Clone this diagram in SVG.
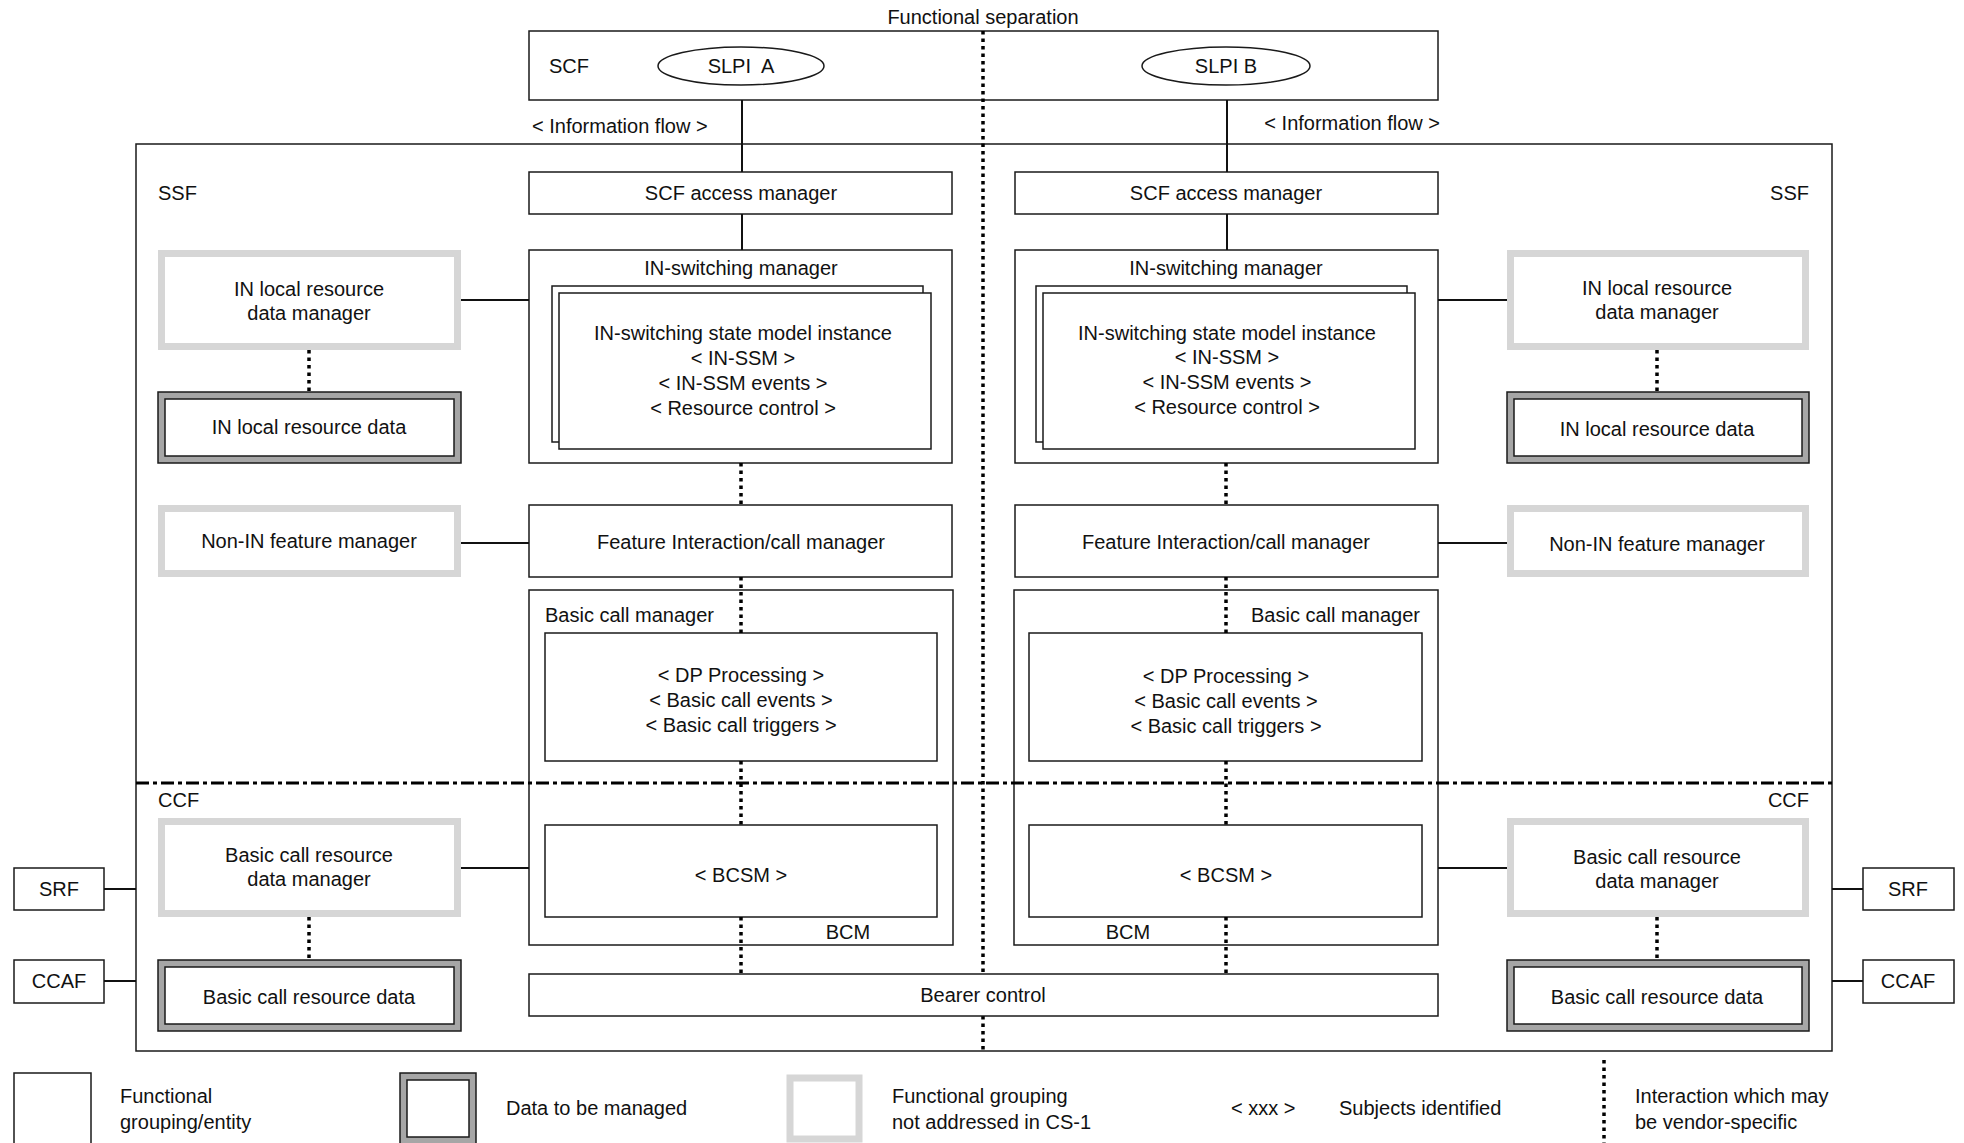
<svg xmlns="http://www.w3.org/2000/svg" width="1964" height="1143" viewBox="0 0 1964 1143">
<style>
.box{fill:#fff;stroke:#1a1a1a;stroke-width:1.5}
.open{fill:none;stroke:#1a1a1a;stroke-width:1.5}
.gbox{fill:#fff;stroke:#d6d6d6;stroke-width:7}
.dout{fill:#a6a6a6;stroke:#1a1a1a;stroke-width:1.5}
.din{fill:#fff;stroke:#1a1a1a;stroke-width:1.5}
.ln{stroke:#111;stroke-width:2;fill:none}
.dot{stroke:#000;stroke-width:3.5;stroke-dasharray:3.5 4;fill:none}
.dashdot{stroke:#000;stroke-width:3;stroke-dasharray:13 4 4 4;fill:none}
text{font-family:"Liberation Sans",Arial,Helvetica,sans-serif;font-size:20px;fill:#111}
.c{text-anchor:middle}
.r{text-anchor:end}
</style>
<rect width="1964" height="1143" fill="#fff"/>

<g id="ssf">
<rect class="box" x="136" y="144" width="1696" height="907"/>
<text x="158" y="200">SSF</text>
<text class="r" x="1809" y="200">SSF</text>
<text x="158" y="807">CCF</text>
<text class="r" x="1809" y="807">CCF</text>
</g>

<g id="scf">
<rect class="box" x="529" y="31" width="909" height="69"/>
<text x="549" y="73">SCF</text>
</g>
<text class="c" x="983" y="24">Functional separation</text>
<g id="slpi-a">
<ellipse class="box" cx="741" cy="66" rx="83" ry="19"/>
<text class="c" x="741" y="73" xml:space="preserve">SLPI  A</text>
</g>
<g id="slpi-b">
<ellipse class="box" cx="1226" cy="66" rx="84" ry="19"/>
<text class="c" x="1226" y="73">SLPI B</text>
</g>
<text x="532" y="133">&lt; Information flow &gt;</text>
<text class="r" x="1440" y="130">&lt; Information flow &gt;</text>

<!-- left column -->
<g id="scf-am-a">
<rect class="box" x="529" y="172" width="423" height="42"/>
<text class="c" x="741" y="200">SCF access manager</text>
</g>
<g id="insw-a">
<rect class="box" x="529" y="250" width="423" height="213"/>
<text class="c" x="741" y="275">IN-switching manager</text>
<rect class="box" x="552" y="286" width="371" height="156"/>
<rect class="box" x="559" y="293" width="372" height="156"/>
<text class="c" x="743" y="340">IN-switching state model instance</text>
<text class="c" x="743" y="365">&lt; IN-SSM &gt;</text>
<text class="c" x="743" y="390">&lt; IN-SSM events &gt;</text>
<text class="c" x="743" y="415">&lt; Resource control &gt;</text>
</g>
<g id="fi-a">
<rect class="box" x="529" y="505" width="423" height="72"/>
<text class="c" x="741" y="549">Feature Interaction/call manager</text>
</g>
<g id="bcm-a">
<rect class="box" x="529" y="590" width="424" height="355"/>
<text x="545" y="622">Basic call manager</text>
<rect class="box" x="545" y="633" width="392" height="128"/>
<text class="c" x="741" y="682">&lt; DP Processing &gt;</text>
<text class="c" x="741" y="707">&lt; Basic call events &gt;</text>
<text class="c" x="741" y="732">&lt; Basic call triggers &gt;</text>
<rect class="box" x="545" y="825" width="392" height="92"/>
<text class="c" x="741" y="882">&lt; BCSM &gt;</text>
<text class="c" x="848" y="939">BCM</text>
</g>

<!-- right column -->
<g id="scf-am-b">
<rect class="box" x="1015" y="172" width="423" height="42"/>
<text class="c" x="1226" y="200">SCF access manager</text>
</g>
<g id="insw-b">
<rect class="box" x="1015" y="250" width="423" height="213"/>
<text class="c" x="1226" y="275">IN-switching manager</text>
<rect class="box" x="1036" y="286" width="371" height="156"/>
<rect class="box" x="1043" y="293" width="372" height="156"/>
<text class="c" x="1227" y="340">IN-switching state model instance</text>
<text class="c" x="1227" y="364">&lt; IN-SSM &gt;</text>
<text class="c" x="1227" y="389">&lt; IN-SSM events &gt;</text>
<text class="c" x="1227" y="414">&lt; Resource control &gt;</text>
</g>
<g id="fi-b">
<rect class="box" x="1015" y="505" width="423" height="72"/>
<text class="c" x="1226" y="549">Feature Interaction/call manager</text>
</g>
<g id="bcm-b">
<rect class="box" x="1014" y="590" width="424" height="355"/>
<text class="r" x="1420" y="622">Basic call manager</text>
<rect class="box" x="1029" y="633" width="393" height="128"/>
<text class="c" x="1226" y="683">&lt; DP Processing &gt;</text>
<text class="c" x="1226" y="708">&lt; Basic call events &gt;</text>
<text class="c" x="1226" y="733">&lt; Basic call triggers &gt;</text>
<rect class="box" x="1029" y="825" width="393" height="92"/>
<text class="c" x="1226" y="882">&lt; BCSM &gt;</text>
<text class="c" x="1128" y="939">BCM</text>
</g>

<!-- left side boxes -->
<g id="inlrdm-a">
<rect class="gbox" x="161.5" y="253.5" width="296" height="93"/>
<text class="c" x="309" y="296">IN local resource</text>
<text class="c" x="309" y="320">data manager</text>
</g>
<g id="inlrd-a">
<rect class="dout" x="158" y="392" width="303" height="71"/>
<rect class="din" x="165" y="399" width="289" height="57"/>
<text class="c" x="309" y="434">IN local resource data</text>
</g>
<g id="nonin-a">
<rect class="gbox" x="161.5" y="508.5" width="296" height="65"/>
<text class="c" x="309" y="548">Non-IN feature manager</text>
</g>
<g id="bcrdm-a">
<rect class="gbox" x="161.5" y="821.5" width="296" height="92"/>
<text class="c" x="309" y="862">Basic call resource</text>
<text class="c" x="309" y="886">data manager</text>
</g>
<g id="bcrd-a">
<rect class="dout" x="158" y="960" width="303" height="71"/>
<rect class="din" x="165" y="967" width="289" height="57"/>
<text class="c" x="309" y="1004">Basic call resource data</text>
</g>

<!-- right side boxes -->
<g id="inlrdm-b">
<rect class="gbox" x="1510.5" y="253.5" width="295" height="93"/>
<text class="c" x="1657" y="295">IN local resource</text>
<text class="c" x="1657" y="319">data manager</text>
</g>
<g id="inlrd-b">
<rect class="dout" x="1507" y="392" width="302" height="71"/>
<rect class="din" x="1514" y="399" width="288" height="57"/>
<text class="c" x="1657" y="436">IN local resource data</text>
</g>
<g id="nonin-b">
<rect class="gbox" x="1510.5" y="508.5" width="295" height="65"/>
<text class="c" x="1657" y="551">Non-IN feature manager</text>
</g>
<g id="bcrdm-b">
<rect class="gbox" x="1510.5" y="821.5" width="295" height="92"/>
<text class="c" x="1657" y="864">Basic call resource</text>
<text class="c" x="1657" y="888">data manager</text>
</g>
<g id="bcrd-b">
<rect class="dout" x="1507" y="960" width="302" height="71"/>
<rect class="din" x="1514" y="967" width="288" height="57"/>
<text class="c" x="1657" y="1004">Basic call resource data</text>
</g>

<!-- external -->
<g id="srf-a">
<rect class="box" x="14" y="868" width="90" height="42"/>
<text class="c" x="59" y="896">SRF</text>
</g>
<g id="ccaf-a">
<rect class="box" x="14" y="960" width="90" height="43"/>
<text class="c" x="59" y="988">CCAF</text>
</g>
<g id="srf-b">
<rect class="box" x="1863" y="868" width="91" height="42"/>
<text class="c" x="1908" y="896">SRF</text>
</g>
<g id="ccaf-b">
<rect class="box" x="1863" y="960" width="91" height="43"/>
<text class="c" x="1908" y="988">CCAF</text>
</g>

<g id="connectors">
<line class="ln" x1="742" y1="100" x2="742" y2="172"/>
<line class="ln" x1="742" y1="214" x2="742" y2="250"/>
<line class="ln" x1="1227" y1="100" x2="1227" y2="172"/>
<line class="ln" x1="1227" y1="214" x2="1227" y2="250"/>
<line class="ln" x1="461" y1="300" x2="529" y2="300"/>
<line class="ln" x1="1438" y1="300" x2="1507" y2="300"/>
<line class="ln" x1="461" y1="543" x2="529" y2="543"/>
<line class="ln" x1="1438" y1="543" x2="1507" y2="543"/>
<line class="ln" x1="461" y1="868" x2="529" y2="868"/>
<line class="ln" x1="1438" y1="868" x2="1507" y2="868"/>
<line class="ln" x1="104" y1="889" x2="136" y2="889"/>
<line class="ln" x1="104" y1="981" x2="136" y2="981"/>
<line class="ln" x1="1832" y1="889" x2="1863" y2="889"/>
<line class="ln" x1="1832" y1="981" x2="1863" y2="981"/>
<line class="dot" x1="309" y1="350" x2="309" y2="392"/>
<line class="dot" x1="309" y1="917" x2="309" y2="960"/>
<line class="dot" x1="1657" y1="350" x2="1657" y2="392"/>
<line class="dot" x1="1657" y1="917" x2="1657" y2="960"/>
<line class="dot" x1="741" y1="463" x2="741" y2="505"/>
<line class="dot" x1="741" y1="577" x2="741" y2="633"/>
<line class="dot" x1="741" y1="761" x2="741" y2="825"/>
<line class="dot" x1="741" y1="917" x2="741" y2="974"/>
<line class="dot" x1="1226" y1="463" x2="1226" y2="505"/>
<line class="dot" x1="1226" y1="577" x2="1226" y2="633"/>
<line class="dot" x1="1226" y1="761" x2="1226" y2="825"/>
<line class="dot" x1="1226" y1="917" x2="1226" y2="974"/>
<line class="dashdot" x1="136" y1="783" x2="1832" y2="783"/>
<line class="dot" x1="983" y1="31" x2="983" y2="974"/>
<line class="dot" x1="983" y1="1016" x2="983" y2="1051"/>
</g>

<g id="bearer">
<rect class="box" x="529" y="974" width="909" height="42"/>
<text class="c" x="983" y="1002">Bearer control</text>
</g>

<g id="legend">
<rect class="box" x="14" y="1073" width="77" height="80"/>
<text x="120" y="1103">Functional</text>
<text x="120" y="1129">grouping/entity</text>
<rect class="dout" x="400" y="1073" width="76" height="71"/>
<rect class="din" x="407" y="1080" width="62" height="57"/>
<text x="506" y="1115">Data to be managed</text>
<rect class="gbox" x="790" y="1078" width="69" height="61"/>
<text x="892" y="1103">Functional grouping</text>
<text x="892" y="1129">not addressed in CS-1</text>
<text x="1231" y="1115">&lt; xxx &gt;</text>
<text x="1339" y="1115">Subjects identified</text>
<line class="dot" x1="1604" y1="1060" x2="1604" y2="1143"/>
<text x="1635" y="1103">Interaction which may</text>
<text x="1635" y="1129">be vendor-specific</text>
</g>
</svg>
